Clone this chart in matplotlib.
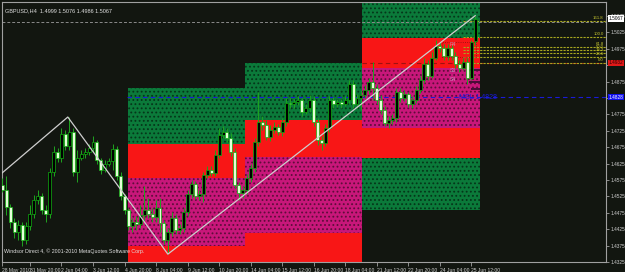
import numpy as np
import matplotlib.pyplot as plt
from matplotlib.patches import Rectangle

# GBPUSD H4 candles, 28 May - 25 Jun 2010
opens = [1.4560, 1.4544, 1.4492, 1.4447, 1.4416, 1.4438, 1.4392, 1.4435, 1.4471, 1.4514,
         1.4526, 1.4483, 1.4471, 1.4599, 1.4660, 1.4642, 1.4715, 1.4679, 1.4721, 1.4599,
         1.4642, 1.4654, 1.4660, 1.4672, 1.4691, 1.4636, 1.4605, 1.4624, 1.4633, 1.4669,
         1.4587, 1.4526, 1.4483, 1.4435, 1.4447, 1.4441, 1.4468, 1.4483, 1.4471, 1.4462,
         1.4489, 1.4444, 1.4392, 1.4416, 1.4459, 1.4422, 1.4428, 1.4477, 1.4532, 1.4563,
         1.4526, 1.4532, 1.4590, 1.4605, 1.4596, 1.4651, 1.4712, 1.4721, 1.4703, 1.4660,
         1.4560, 1.4535, 1.4544, 1.4581, 1.4611, 1.4691, 1.4752, 1.4743, 1.4706, 1.4727,
         1.4736, 1.4721, 1.4752, 1.4810, 1.4807, 1.4813, 1.4819, 1.4782, 1.4794, 1.4819,
         1.4752, 1.4697, 1.4688, 1.4733, 1.4819, 1.4807, 1.4813, 1.4807, 1.4819, 1.4868,
         1.4807, 1.4825, 1.4834, 1.4849, 1.4874, 1.4855, 1.4819, 1.4788, 1.4749, 1.4758,
         1.4764, 1.4843, 1.4825, 1.4837, 1.4807, 1.4819, 1.4849, 1.4880, 1.4929, 1.4892,
         1.4947, 1.4984, 1.4977, 1.4953, 1.4977, 1.4953, 1.4929, 1.4916, 1.4935, 1.4886,
         1.4999]
highs = [1.4581, 1.4587, 1.4502, 1.4459, 1.4453, 1.4447, 1.4447, 1.4499, 1.4529, 1.4544,
         1.4535, 1.4499, 1.4611, 1.4679, 1.4672, 1.4733, 1.4727, 1.4767, 1.4733, 1.4666,
         1.4666, 1.4672, 1.4685, 1.4709, 1.4697, 1.4642, 1.4636, 1.4642, 1.4685, 1.4679,
         1.4599, 1.4532, 1.4489, 1.4459, 1.4465, 1.4499, 1.4557, 1.4520, 1.4489, 1.4514,
         1.4520, 1.4453, 1.4428, 1.4477, 1.4471, 1.4441, 1.4489, 1.4544, 1.4575, 1.4572,
         1.4544, 1.4599, 1.4618, 1.4618, 1.4666, 1.4733, 1.4740, 1.4733, 1.4718, 1.4672,
         1.4569, 1.4557, 1.4593, 1.4624, 1.4703, 1.4843, 1.4770, 1.4758, 1.4743, 1.4752,
         1.4746, 1.4764, 1.4825, 1.4825, 1.4822, 1.4831, 1.4825, 1.4807, 1.4834, 1.4831,
         1.4764, 1.4709, 1.4746, 1.4831, 1.4828, 1.4822, 1.4822, 1.4831, 1.4880, 1.4880,
         1.4837, 1.4849, 1.4865, 1.4886, 1.4935, 1.4868, 1.4834, 1.4801, 1.4770, 1.4776,
         1.4855, 1.4855, 1.4849, 1.4843, 1.4831, 1.4862, 1.4892, 1.4947, 1.4941, 1.4965,
         1.5002, 1.4996, 1.4990, 1.4990, 1.4987, 1.4965, 1.4941, 1.4947, 1.4947, 1.5002,
         1.5076]
lows = [1.4538, 1.4468, 1.4428, 1.4398, 1.4392, 1.4373, 1.4380, 1.4422, 1.4459, 1.4502,
        1.4471, 1.4447, 1.4459, 1.4587, 1.4630, 1.4630, 1.4666, 1.4666, 1.4587, 1.4569,
        1.4636, 1.4642, 1.4651, 1.4660, 1.4624, 1.4593, 1.4599, 1.4618, 1.4605, 1.4575,
        1.4514, 1.4471, 1.4422, 1.4416, 1.4422, 1.4428, 1.4447, 1.4459, 1.4447, 1.4447,
        1.4416, 1.4380, 1.4349, 1.4404, 1.4410, 1.4410, 1.4416, 1.4465, 1.4520, 1.4517,
        1.4514, 1.4508, 1.4581, 1.4587, 1.4587, 1.4642, 1.4703, 1.4691, 1.4648, 1.4550,
        1.4514, 1.4520, 1.4532, 1.4569, 1.4599, 1.4679, 1.4727, 1.4697, 1.4694, 1.4718,
        1.4712, 1.4709, 1.4740, 1.4794, 1.4794, 1.4804, 1.4770, 1.4776, 1.4782, 1.4740,
        1.4682, 1.4666, 1.4679, 1.4721, 1.4794, 1.4797, 1.4794, 1.4801, 1.4810, 1.4794,
        1.4794, 1.4788, 1.4825, 1.4837, 1.4819, 1.4807, 1.4776, 1.4740, 1.4733, 1.4746,
        1.4752, 1.4813, 1.4816, 1.4797, 1.4794, 1.4810, 1.4840, 1.4871, 1.4880, 1.4886,
        1.4941, 1.4965, 1.4941, 1.4941, 1.4941, 1.4916, 1.4904, 1.4910, 1.4868, 1.4880,
        1.4986]
closes = [1.4544, 1.4492, 1.4447, 1.4416, 1.4438, 1.4392, 1.4435, 1.4471, 1.4514, 1.4526,
          1.4483, 1.4471, 1.4599, 1.4660, 1.4642, 1.4715, 1.4679, 1.4721, 1.4599, 1.4642,
          1.4654, 1.4660, 1.4672, 1.4691, 1.4636, 1.4605, 1.4624, 1.4633, 1.4669, 1.4587,
          1.4526, 1.4483, 1.4435, 1.4447, 1.4441, 1.4468, 1.4483, 1.4471, 1.4462, 1.4489,
          1.4444, 1.4392, 1.4416, 1.4459, 1.4422, 1.4428, 1.4477, 1.4532, 1.4563, 1.4526,
          1.4532, 1.4590, 1.4605, 1.4596, 1.4651, 1.4712, 1.4721, 1.4703, 1.4660, 1.4560,
          1.4535, 1.4544, 1.4581, 1.4611, 1.4691, 1.4752, 1.4743, 1.4706, 1.4727, 1.4736,
          1.4721, 1.4752, 1.4810, 1.4807, 1.4813, 1.4819, 1.4782, 1.4794, 1.4819, 1.4752,
          1.4697, 1.4688, 1.4733, 1.4819, 1.4807, 1.4813, 1.4807, 1.4819, 1.4868, 1.4807,
          1.4825, 1.4834, 1.4849, 1.4874, 1.4855, 1.4819, 1.4788, 1.4749, 1.4758, 1.4764,
          1.4843, 1.4825, 1.4837, 1.4807, 1.4819, 1.4849, 1.4880, 1.4929, 1.4892, 1.4947,
          1.4984, 1.4977, 1.4953, 1.4977, 1.4953, 1.4929, 1.4916, 1.4935, 1.4886, 1.4996,
          1.5067]

time_ticks = [0, 7, 15, 23, 31, 39, 47, 55, 63, 71, 79, 87, 95, 103, 111, 119]
time_labels = ['28 May 2010', '31 May 20:00', '2 Jun 04:00', '3 Jun 12:00', '4 Jun 20:00',
               '8 Jun 04:00', '9 Jun 12:00', '10 Jun 20:00', '14 Jun 04:00', '15 Jun 12:00',
               '16 Jun 20:00', '18 Jun 04:00', '21 Jun 12:00', '22 Jun 20:00', '24 Jun 04:00',
               '25 Jun 12:00']
price_ticks = [1.5075, 1.5025, 1.4975, 1.4925, 1.4875, 1.4825, 1.4775, 1.4725, 1.4675,
               1.4625, 1.4575, 1.4525, 1.4475, 1.4425, 1.4375, 1.4325]
hidden_ticks = [1.4925, 1.4825]  # covered by the price boxes

# weekly zones: (start bar, end bar, [(low, high, kind), ...])
zones = [
    (31.8, 61.6, [(1.4685, 1.4856, 'g'), (1.4581, 1.4685, 'r'), (1.4374, 1.4581, 'm'), (1.4300, 1.4374, 'r')]),
    (61.6, 91.3, [(1.4758, 1.4932, 'g'), (1.4645, 1.4758, 'r'), (1.4413, 1.4645, 'm'), (1.4300, 1.4413, 'r')]),
    (91.3, 121.2, [(1.5008, 1.5200, 'g'), (1.4916, 1.5008, 'r'), (1.4733, 1.4916, 'm'), (1.4642, 1.4733, 'r'),
                   (1.4483, 1.4642, 'g')]),
]

zz_bars = [-10, 16.6, 42, 120]
zz_price = [1.4495, 1.4767, 1.4349, 1.5076]

fib_levels = [0.0, 23.6, 38.2, 50.0, 61.8, 100.0, 161.8]
fib_lo, fib_hi = 1.4932, 1.5011
fib_start = 117

# small pivot marks near the last bars
marks_x = [118.0, 118.5, 119.0]
marks_y = [1.4910, 1.4874, 1.4852]
mark_names = ['R4', 'S3', 'S4']
mark_name_y = [1.4987, 1.4910, 1.4880]
box_bars = (111.6, 120.2)
box_prices = (1.4950, 1.4996)

bid = 1.5067
msl = 1.4828
red_level = 1.4932
grey_level = 1.5057

BG = '#121610'
GRID = '#a0a0a0'
zone_style = {'g': ('#0b7a3a', '#05361a'), 'r': ('#f81616', None), 'm': ('#c8177a', '#5e0d3a')}

plt.rcParams['hatch.linewidth'] = 0.8
plt.rcParams['font.family'] = ['Liberation Sans', 'DejaVu Sans']
fig = plt.figure(figsize=(6.25, 2.72), dpi=100, facecolor=BG)
ax = fig.add_axes([2 / 625, 10 / 272, 604 / 625, 260 / 272])
ax.set_facecolor(BG)
ax.set_xlim(-0.1, 153.2)
ax.set_ylim(1.4325, 1.51177)

for x0, x1, layers in zones:
    for lo, hi, kind in layers:
        fc, hc = zone_style[kind]
        if hc:
            r = Rectangle((x0, lo), x1 - x0, hi - lo, facecolor=fc, edgecolor=hc, hatch='....', lw=0, zorder=1)
        else:
            r = Rectangle((x0, lo), x1 - x0, hi - lo, facecolor=fc, lw=0, zorder=1)
        ax.add_patch(r)

ax.axhline(grey_level, color='#8a8a8a', lw=0.7, ls=(0, (3, 2)), zorder=2)
ax.hlines(msl, 31.6, 153.2, color='#1a1ad8', lw=0.8, ls=(0, (4, 3)), zorder=2)
ax.hlines(red_level, 91.3, 153.2, color='#a01010', lw=0.8, ls=(0, (4, 3)), zorder=2)

for lev in fib_levels:
    p = fib_lo + (fib_hi - fib_lo) * lev / 100
    ax.hlines(p, fib_start, 153.2, color='#a8a820', lw=0.8, ls=(0, (2, 1)), zorder=2)
    ax.text(152.6, p + 0.0002, '%.1f' % lev, color='#c8c830', fontsize=3.1, ha='right', va='bottom', zorder=5)

ax.add_patch(Rectangle((box_bars[0], box_prices[0]), box_bars[1] - box_bars[0], box_prices[1] - box_prices[0],
                       fill=False, edgecolor='#8a1010', lw=0.6, ls=':', zorder=3))
for mx, my in zip(marks_x, marks_y):
    ax.hlines(my, mx, 121.2, color='#4a0c38', lw=1.4, zorder=3)
for name, ny in zip(mark_names, mark_name_y):
    ax.text(113.5, ny, name, color='#d8a8d0', fontsize=3.6, va='center', ha='left', zorder=6, alpha=0.8)

# candles: MT4 green-on-black, bull body black, bear body white
idx = np.arange(len(closes))
o = np.array(opens); c = np.array(closes); h = np.array(highs); l = np.array(lows)
up = c >= o
ax.vlines(idx, l, h, color='#1fa51f', lw=0.7, zorder=3)
ax.bar(idx[up], (c - o)[up], bottom=o[up], width=0.75, color='#000000', edgecolor='#10b010', lw=0.5, zorder=4)
ax.bar(idx[~up], (o - c)[~up], bottom=c[~up], width=0.75, color='#e4ffd8', edgecolor='#10b010', lw=0.5, zorder=4)

ax.plot(zz_bars, zz_price, color='#cfcfcf', lw=0.9, zorder=5)

ax.text(116, msl, 'MSL 1.4828', color='#1a1ae0', fontsize=5, va='center', zorder=6)

# axes styling
for s in ax.spines.values():
    s.set_color(GRID)
    s.set_linewidth(0.8)
ax.set_xticks(time_ticks)
ax.set_xticklabels(time_labels, ha='left')
ax.tick_params(axis='x', colors=GRID, labelcolor='#d0d0d0', labelsize=3.6, length=3, width=0.6, pad=1)
ax.yaxis.tick_right()
ax.set_yticks(price_ticks)
ax.set_yticklabels(['' if p in hidden_ticks else '%.4f' % p for p in price_ticks])
ax.tick_params(axis='y', colors=GRID, labelcolor='#d0d0d0', labelsize=3.4, length=2, width=0.6, pad=1)

tr = ax.get_yaxis_transform()
ax.text(1.004, bid, '%.4f' % bid, transform=tr, fontsize=3.4, color='#000000', va='center', ha='left',
        bbox=dict(boxstyle='square,pad=0.15', fc='#ffffff', ec='none'), zorder=7, clip_on=False)
ax.text(1.004, red_level, '%.4f' % red_level, transform=tr, fontsize=3.4, color='#300000', va='center', ha='left',
        bbox=dict(boxstyle='square,pad=0.15', fc='#e01818', ec='none'), zorder=7, clip_on=False)
ax.text(1.004, msl, '%.4f' % msl, transform=tr, fontsize=3.4, color='#ffffff', va='center', ha='left',
        bbox=dict(boxstyle='square,pad=0.15', fc='#1010f0', ec='none'), zorder=7, clip_on=False)

ax.text(0.005, 0.975, 'GBPUSD,H4  1.4999 1.5076 1.4986 1.5067', transform=ax.transAxes, fontsize=4,
        color='#e0e0e0', va='top', ha='left', zorder=8)
ax.text(0.003, 0.03, 'Windsor Direct 4, \u00a9 2001-2010 MetaQuotes Software Corp.', transform=ax.transAxes,
        fontsize=3.8, color='#e0e0e0', va='bottom', ha='left', zorder=8)

fig.savefig('out.png', dpi=100, facecolor=BG)
